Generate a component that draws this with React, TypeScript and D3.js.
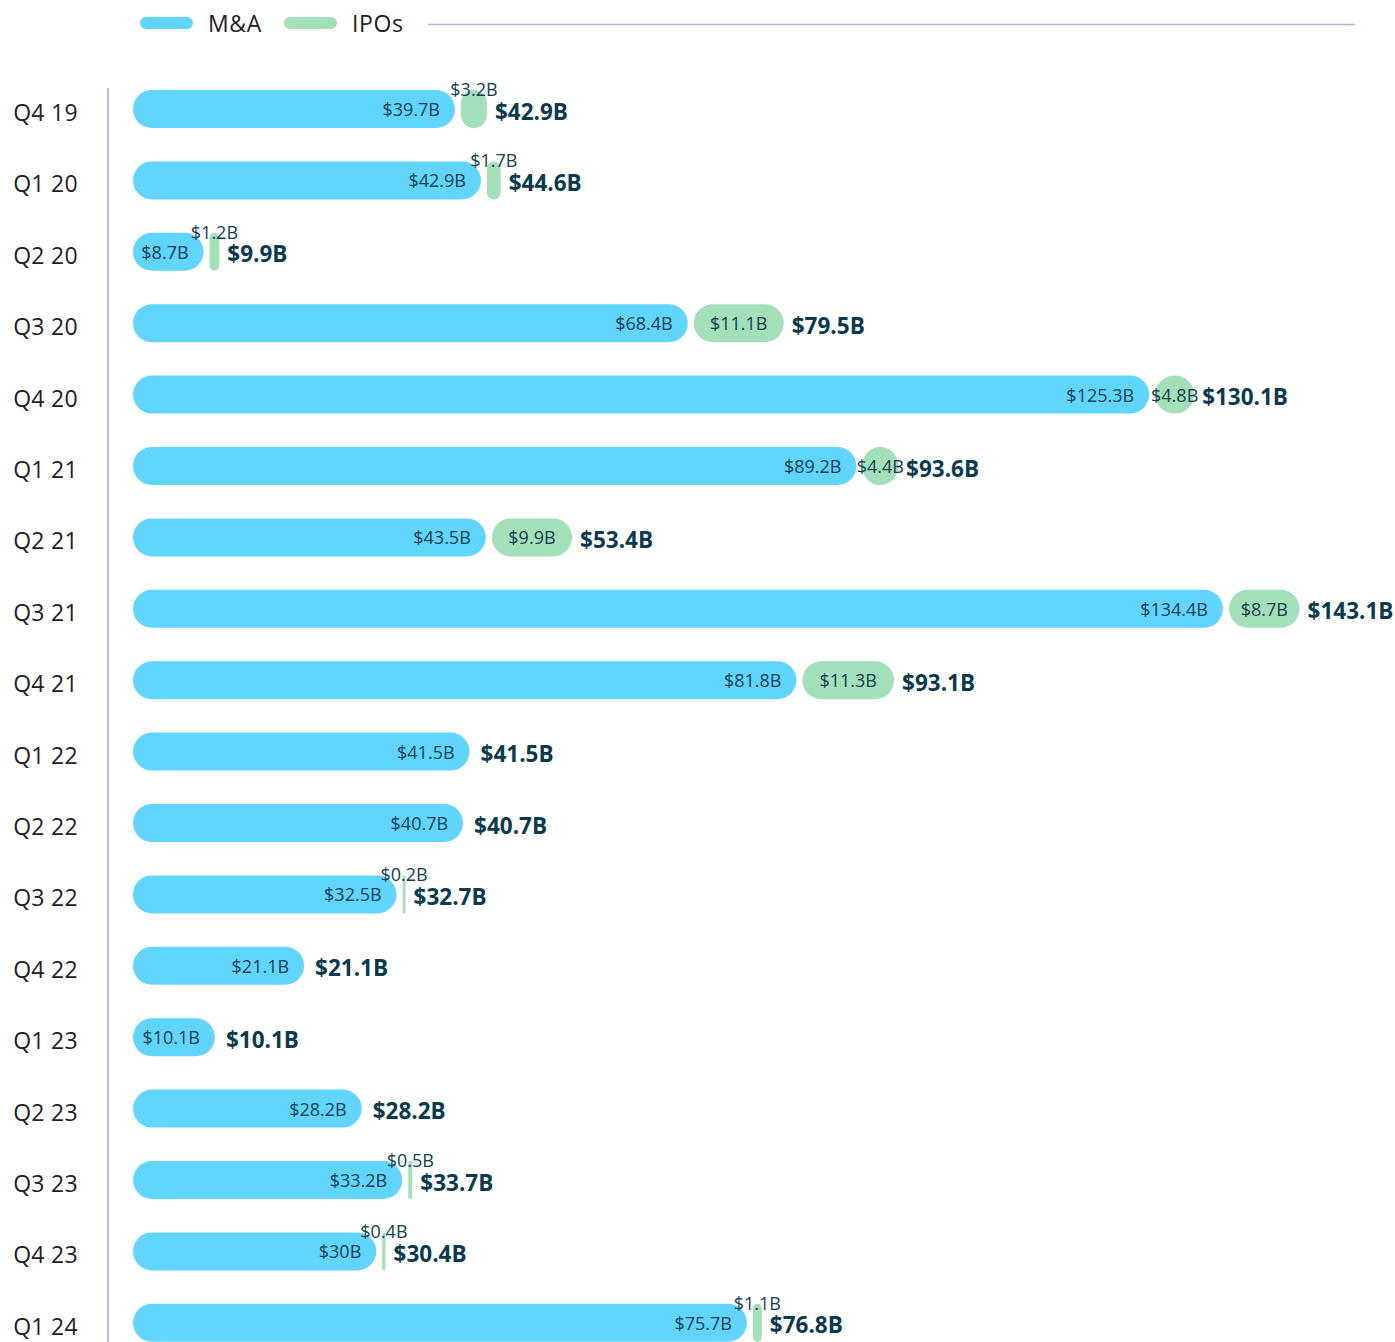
import React from "react";
import * as d3 from "d3";

const categories = ["Q4 19","Q1 20","Q2 20","Q3 20","Q4 20","Q1 21","Q2 21","Q3 21","Q4 21","Q1 22","Q2 22","Q3 22","Q4 22","Q1 23","Q2 23","Q3 23","Q4 23","Q1 24"];
const maValues = [39.7,42.9,8.7,68.4,125.3,89.2,43.5,134.4,81.8,41.5,40.7,32.5,21.1,10.1,28.2,33.2,30,75.7];
const ipoValues = [3.2,1.7,1.2,11.1,4.8,4.4,9.9,8.7,11.3,0,0,0.2,0,0,0,0.5,0.4,1.1];
const legendItems = ["M&A","IPOs"];

const W = 1395, H = 1342;
const BLUE = "#62d5fe";
const GREEN = "#a3dfb8";
const TEXT = "#103f52";
const FONT = "'Open Sans', 'Noto Sans', sans-serif";

const fmt = (v: number) => `$${Math.round(v * 10) / 10}B`;

export default function App() {
  const x0 = 133;
  const x = d3.scaleLinear().domain([0, 134.4]).range([0, 1090]);
  const y = d3.scaleBand<string>().domain(categories).range([73.3, 73.3 + 71.4 * categories.length]).paddingInner(0.47).paddingOuter(0.235);
  const bh = 38;
  const gap = 6;

  return (
    <div style={{ position: "absolute", left: 0, top: 0 }}>
      <svg width={W} height={H} style={{ display: "block", fontFamily: FONT }}>
        <rect width={W} height={H} fill="#fff" />
        {/* legend */}
        <g>
          <rect x={140} y={17} width={53} height={12} rx={6} fill={BLUE} />
          <text x={208} y={23} dominantBaseline="central" fontSize={23} fill="#222" letterSpacing={0.6}>{legendItems[0]}</text>
          <rect x={284} y={17} width={53} height={12} rx={6} fill={GREEN} />
          <text x={352} y={23} dominantBaseline="central" fontSize={23} fill="#222" letterSpacing={0.6}>{legendItems[1]}</text>
          <line x1={428} x2={1355} y1={24.5} y2={24.5} stroke="#a9b6d4" strokeWidth={1.5} />
        </g>
        {/* axis line */}
        <line x1={108} x2={108} y1={88} y2={H} stroke="#b3bfdc" strokeWidth={2} />
        {categories.map((c, i) => {
          const cy = (y(c) as number) + y.bandwidth() / 2;
          const top = cy - bh / 2;
          const ma = maValues[i];
          const ipo = ipoValues[i];
          const mw = x(ma);
          const mEnd = x0 + mw;
          const iw = ipo > 0 ? Math.max(x(ipo), 3) : 0;
          const iStart = mEnd + gap;
          const iEnd = iStart + iw;
          const total = ma + ipo;
          const totalX = ipo > 0 ? iEnd + 8 : mEnd + 11;
          const ipoInside = iw > 30;
          return (
            <g key={c}>
              <text x={78} y={cy + 3} textAnchor="end" dominantBaseline="central" fontSize={23} fill="#222" letterSpacing={0.3}>{c}</text>
              <rect x={x0} y={top} width={mw} height={bh} rx={bh / 2} fill={BLUE} />
              <text x={mEnd - 15} y={cy} textAnchor="end" dominantBaseline="central" fontSize={18} fill={TEXT}>{fmt(ma)}</text>
              {ipo > 0 && (
                <>
                  <rect x={iStart} y={top} width={iw} height={bh} rx={Math.min(bh / 2, iw / 2)} fill={GREEN} />
                  {ipoInside ? (
                    <text x={iStart + iw / 2} y={cy} textAnchor="middle" dominantBaseline="central" fontSize={18} fill={TEXT}>{fmt(ipo)}</text>
                  ) : (
                    <text x={iStart + iw / 2} y={top - 1} textAnchor="middle" dominantBaseline="central" fontSize={18} fill={TEXT}>{fmt(ipo)}</text>
                  )}
                </>
              )}
              <text x={totalX} y={cy + 2} dominantBaseline="central" fontSize={22.5} fontWeight={700} fill="#0b3a4e">{fmt(total)}</text>
            </g>
          );
        })}
      </svg>
    </div>
  );
}
